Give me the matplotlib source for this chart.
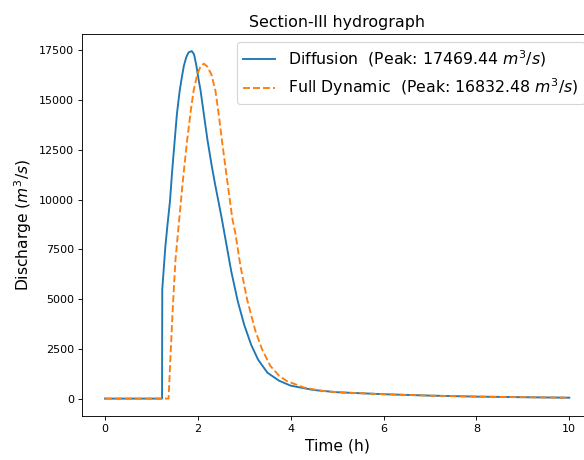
import numpy as np
import matplotlib
matplotlib.use("Agg")
import matplotlib.pyplot as plt

# Diffusion hydrograph (time in h, discharge in m3/s)
t_diff = [0.0, 1.23, 1.235, 1.26, 1.30, 1.35, 1.40, 1.45, 1.50, 1.55, 1.61, 1.66,
          1.70, 1.75, 1.80, 1.87, 1.92, 1.97, 2.02, 2.06, 2.13, 2.21, 2.30, 2.37,
          2.45, 2.52, 2.62, 2.72, 2.86, 3.00, 3.15, 3.30, 3.50, 3.75, 4.00, 4.50,
          5.00, 6.00, 7.00, 8.00, 9.00, 10.0]
q_diff = [0.0, 0.0, 5500, 6300, 7600, 8800, 9900, 11500, 12900, 14300, 15475, 16200,
          16725, 17150, 17400, 17469.44, 17300, 16725, 16000, 15475, 14300, 12975, 11700, 10800,
          9850, 9000, 7700, 6400, 4900, 3700, 2700, 1950, 1300, 900, 650, 430,
          320, 220, 150, 100, 70, 45]

# Full dynamic hydrograph
t_full = [0.0, 1.37, 1.40, 1.46, 1.52, 1.60, 1.68, 1.77, 1.85, 1.91, 1.99, 2.06,
          2.13, 2.20, 2.29, 2.38, 2.45, 2.52, 2.62, 2.74, 2.81, 2.92, 3.06, 3.24,
          3.38, 3.56, 3.75, 3.92, 4.28, 4.64, 5.00, 6.00, 7.00, 8.00, 9.00, 10.0]
q_full = [0.0, 0.0, 1500, 4500, 7000, 9000, 11000, 12975, 14500, 15475, 16310, 16700,
          16832.48, 16700, 16310, 15475, 14300, 12975, 11200, 9100, 8300, 6640, 5000, 3400,
          2500, 1650, 1150, 880, 560, 400, 320, 220, 150, 100, 70, 45]

fig = plt.figure(figsize=(7.3, 5.75), dpi=80)
ax = fig.add_axes([0.1399, 0.0957, 0.8747, 0.8311])

ax.plot(t_diff, q_diff, lw=1.7,
        label=f"Diffusion  (Peak: {max(q_diff):.2f} $m^3/s$)")
ax.plot(t_full, q_full, "--", lw=1.7,
        label=f"Full Dynamic  (Peak: {max(q_full):.2f} $m^3/s$)")

ax.set_title("Section-III hydrograph", fontsize=14.3)
ax.set_xlabel("Time (h)", fontsize=14)
ax.set_ylabel("Discharge ($m^3/s$)", fontsize=14)
ax.legend(loc="upper right", fontsize=14.2)

fig.savefig("out.png", dpi=80)
